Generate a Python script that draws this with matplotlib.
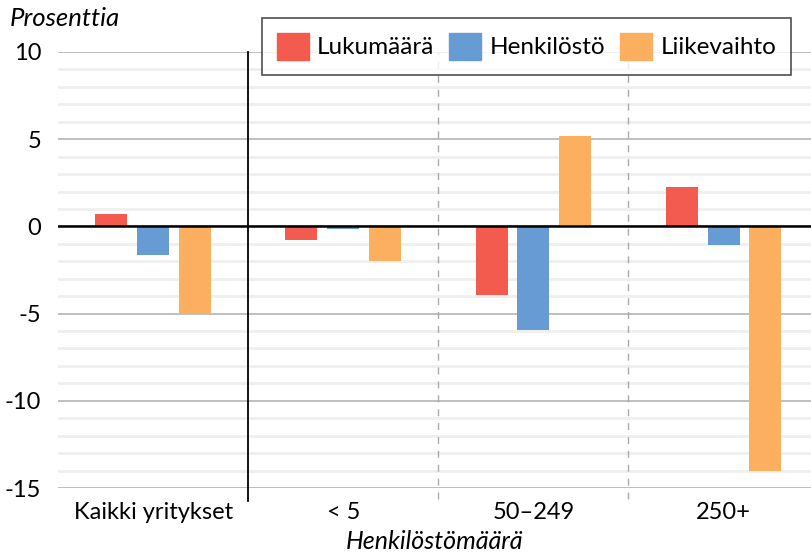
import matplotlib.pyplot as plt
import numpy as np
from matplotlib.patches import Patch

plt.rcParams['font.family'] = ['Lato', 'DejaVu Sans']

categories = ['Kaikki yritykset', '< 5', '50–249', '250+']
series = ['Lukumäärä', 'Henkilöstö', 'Liikevaihto']
lukumaara = [0.7, -0.8, -3.96, 2.27]
henkilosto = [-1.63, -0.17, -5.92, -1.09]
liikevaihto = [-5.0, -2.0, 5.2, -14.0]
colors = ['#F35B4E', '#669BD3', '#FBAF5F']

fig = plt.figure(figsize=(8.11, 5.56), dpi=100)
ax = fig.add_axes([0.0715, 0.1223, 0.9285, 0.7842])

x = np.arange(len(categories))
w = 0.168
off = 0.22
for i, vals in enumerate([lukumaara, henkilosto, liikevaihto]):
	ax.bar(x + (i - 1) * off, vals, w, color=colors[i], zorder=3)

ax.set_ylim(-15, 10)
ax.set_xlim(-0.5, 3.46)
ax.set_yticks([-15, -10, -5, 0, 5, 10])
ax.set_yticklabels(['-15', '-10', '-5', '0', '5', '10'])
ax.set_yticks(np.arange(-15, 11, 1), minor=True)
ax.grid(axis='y', which='minor', color='#efefef', lw=2, zorder=0)
ax.grid(axis='y', which='major', color='#b4b4b4', lw=1.2, zorder=1)
ax.axhline(0, color='black', lw=1.8, zorder=4)

ax.set_xticks(x)
ax.set_xticklabels(categories)
ax.tick_params(axis='both', which='both', length=0, labelsize=17)
ax.tick_params(axis='x', pad=10)
ax.tick_params(axis='y', pad=12)
for s in ax.spines.values():
	s.set_visible(False)

ax.axvline(0.5, ymin=-0.03, ymax=1, color='black', lw=1.3, clip_on=False, zorder=4)
for xv in [1.5, 2.5]:
	ax.axvline(xv, ymin=-0.025, ymax=1, color='#aaaaaa', lw=1, ls=(0, (5, 5)), clip_on=False, zorder=2)

fig.text(0.012, 0.966, 'Prosenttia', fontsize=18.5, style='italic', va='center')
ax.set_xlabel('Henkilöstömäärä', fontsize=18, style='italic', labelpad=5)

handles = [Patch(color=c, label=s) for c, s in zip(colors, series)]
leg = ax.legend(handles=handles, loc='upper left', bbox_to_anchor=(262 / 811, 1 - 18 / 556),
	bbox_transform=fig.transFigure, borderaxespad=0, ncol=3, fontsize=17.5, frameon=True,
	fancybox=False, handlelength=1.32, handleheight=1.36, handletextpad=0.35,
	columnspacing=0.6, borderpad=0.6, shadow=False)
leg.get_frame().set_edgecolor('#222222')
leg.get_frame().set_linewidth(1.2)
leg.set_zorder(10)

fig.savefig('out.png', dpi=100)
